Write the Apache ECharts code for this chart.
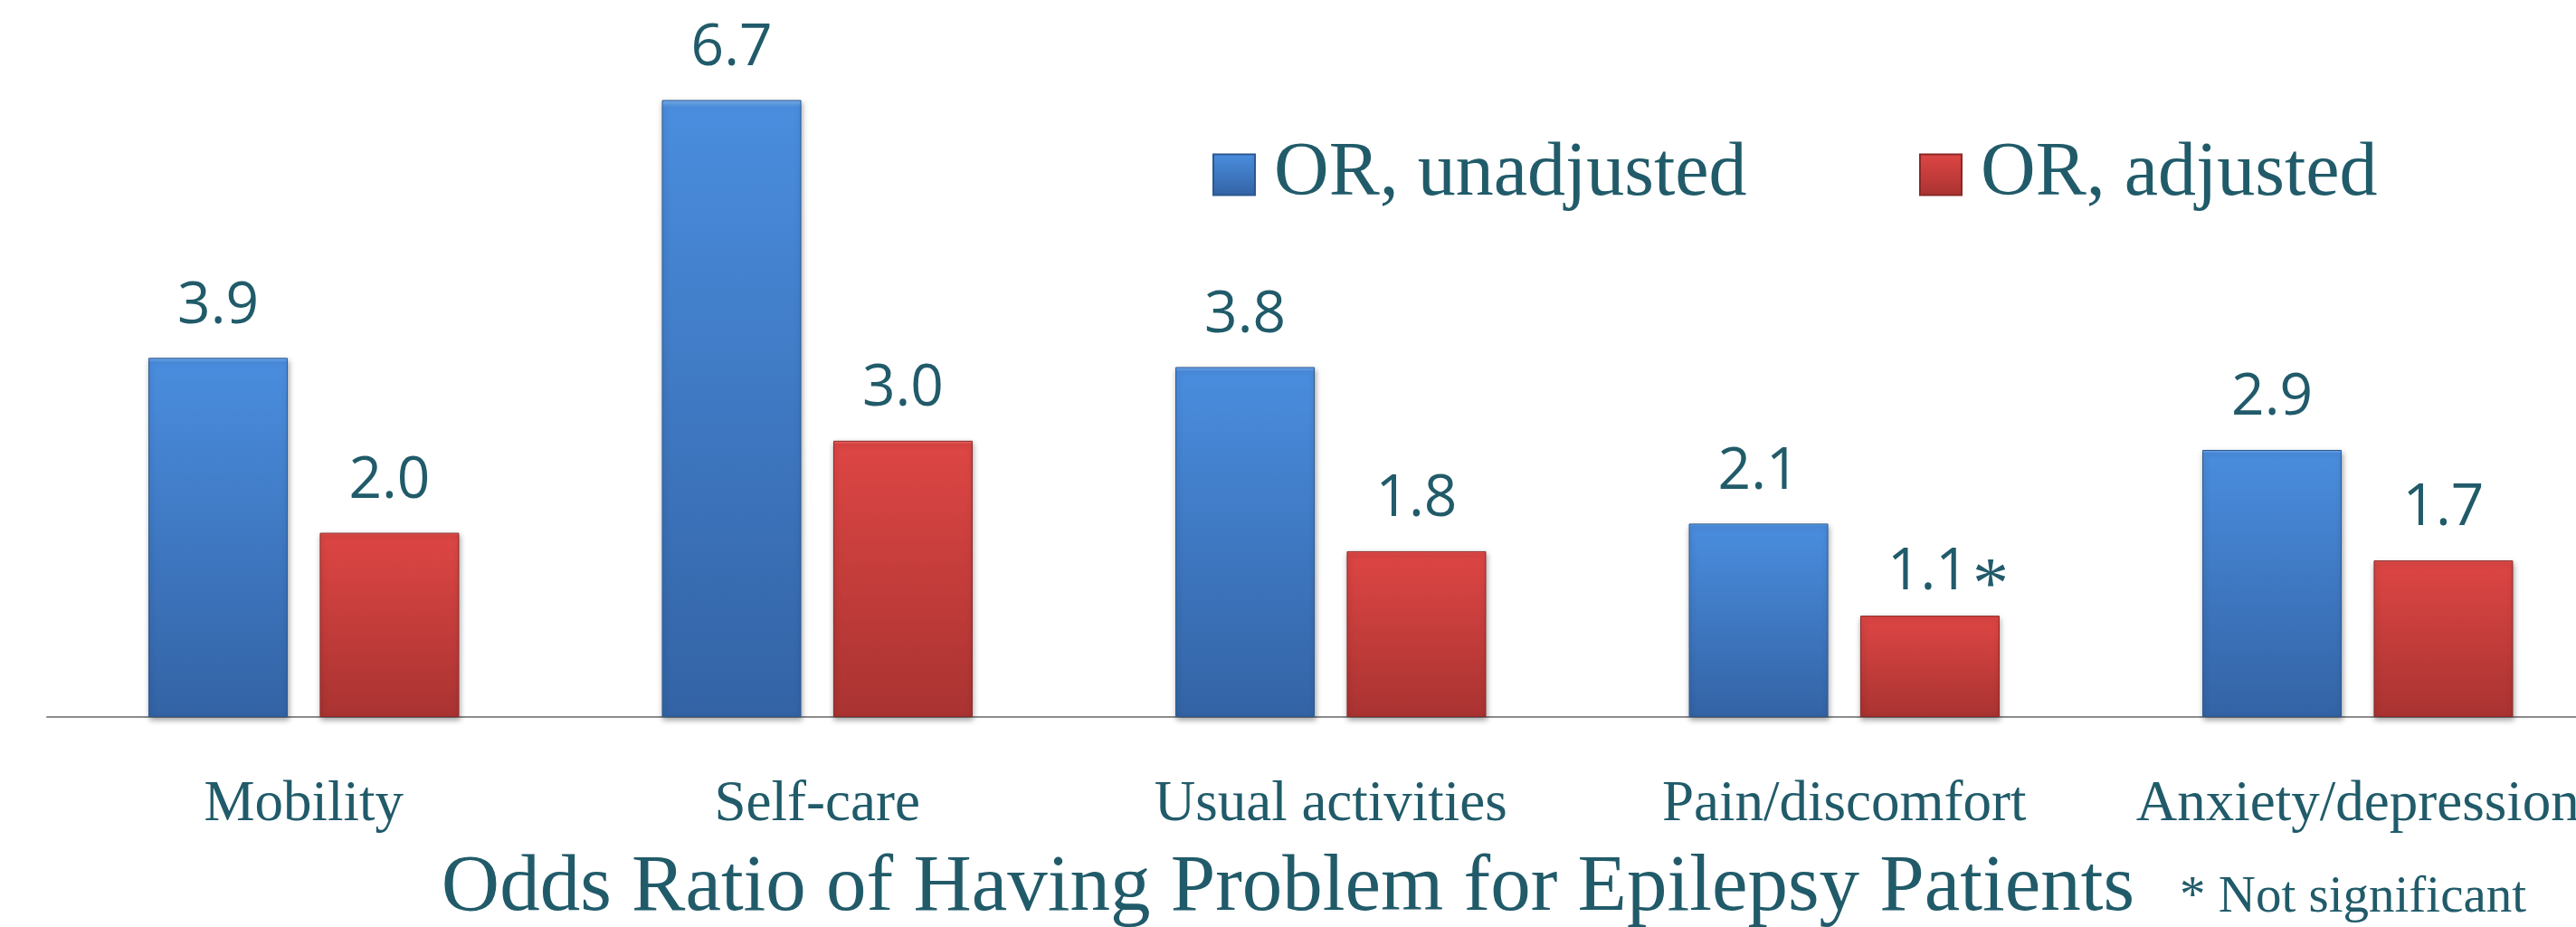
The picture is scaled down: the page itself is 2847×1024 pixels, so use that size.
<!DOCTYPE html>
<html><head><meta charset="utf-8">
<script src="https://cdn.jsdelivr.net/npm/echarts@6/dist/echarts.min.js"></script>
<style>html,body{margin:0;padding:0;background:#fff;overflow:hidden}#c{width:2847px;height:1024px}</style>
</head><body><div id="c"></div>
<script>
const categories = ['Mobility', 'Self-care', 'Usual activities', 'Pain/discomfort', 'Anxiety/depression'];
const orUnadjusted = [3.9, 6.7, 3.8, 2.1, 2.9];
const orAdjusted = [2.0, 3.0, 1.8, 1.1, 1.7];
const adjustedNotSignificant = [false, false, false, true, false];
const seriesNames = ['OR, unadjusted', 'OR, adjusted'];
const titleText = 'Odds Ratio of Having Problem for Epilepsy Patients';
const footnote = '* Not significant';

const TEXT = '#215B6A';
const SERIF = '"Liberation Serif", "Times New Roman", serif';
const SANS = '"Open Sans", "Noto Sans", sans-serif';
const G = echarts.graphic.LinearGradient;
const blueFill = new G(0, 0, 0, 1, [
  {offset: 0, color: '#79B3F3'}, {offset: 0.012, color: '#4A8DDE'}, {offset: 1, color: '#3363A5'}
]);
const redFill = new G(0, 0, 0, 1, [
  {offset: 0, color: '#F27472'}, {offset: 0.012, color: '#DD4644'}, {offset: 1, color: '#A93331'}
]);

const valueLabel = {
  show: true, position: 'top', distance: 25,
  fontFamily: SANS, fontSize: 64, color: TEXT,
  formatter: p => p.value.toFixed(1)
};

const adjustedData = orAdjusted.map((v, i) => adjustedNotSignificant[i] ? {
  value: v,
  label: {
    formatter: p => '{n|' + p.value.toFixed(1) + '}{s|*}',
    offset: [20, 0],
    distance: -10,
    rich: {
      n: {fontFamily: SANS, fontSize: 64, color: TEXT},
      s: {fontFamily: SERIF, fontSize: 80, color: TEXT, lineHeight: 114, verticalAlign: 'bottom', padding: [0, 0, 0, 4]}
    }
  }
} : v);

const chart = echarts.init(document.getElementById('c'), null, {renderer: 'canvas'});
chart.setOption({
  animation: false,
  backgroundColor: '#ffffff',
  title: [
    {text: titleText, left: 'center', top: 937, padding: 0,
     textStyle: {fontFamily: SERIF, fontSize: 89, fontWeight: 'normal', color: TEXT}},
    {text: footnote, left: 2409, top: 964, padding: 0,
     textStyle: {fontFamily: SERIF, fontSize: 57, fontWeight: 'normal', color: TEXT}}
  ],
  legend: [
    {data: [seriesNames[0]], left: 1340, top: 151, padding: 0, icon: 'rect',
     itemWidth: 46, itemHeight: 45,
     textStyle: {fontFamily: SERIF, fontSize: 84, color: TEXT, padding: [0, 0, 0, 16]}},
    {data: [seriesNames[1]], left: 2121, top: 151, padding: 0, icon: 'rect',
     itemWidth: 46, itemHeight: 45,
     textStyle: {fontFamily: SERIF, fontSize: 84, color: TEXT, padding: [0, 0, 0, 16]}}
  ],
  grid: {left: 52, right: -42.5, top: 80, bottom: 232, containLabel: false, outerBoundsMode: 'none'},
  xAxis: {
    type: 'category', data: categories,
    axisLine: {show: true, lineStyle: {color: '#8C8C8C', width: 2}},
    axisTick: {show: false},
    axisLabel: {margin: 66, fontFamily: SERIF, fontSize: 63, color: TEXT, interval: 0, hideOverlap: false}
  },
  yAxis: {type: 'value', min: 0, max: 7, show: false, splitLine: {show: false}},
  series: [
    {name: seriesNames[0], type: 'bar', data: orUnadjusted, barWidth: 154, barGap: '23%',
     itemStyle: {color: blueFill, borderColor: '#2C5890', borderWidth: 1,
                 shadowColor: 'rgba(0,0,0,0.35)', shadowBlur: 6, shadowOffsetX: 1, shadowOffsetY: 3},
     label: valueLabel},
    {name: seriesNames[1], type: 'bar', data: adjustedData, barWidth: 154, barGap: '23%',
     itemStyle: {color: redFill, borderColor: '#8A2826', borderWidth: 1,
                 shadowColor: 'rgba(0,0,0,0.35)', shadowBlur: 6, shadowOffsetX: 1, shadowOffsetY: 3},
     label: valueLabel}
  ]
});
</script>
</body></html>
